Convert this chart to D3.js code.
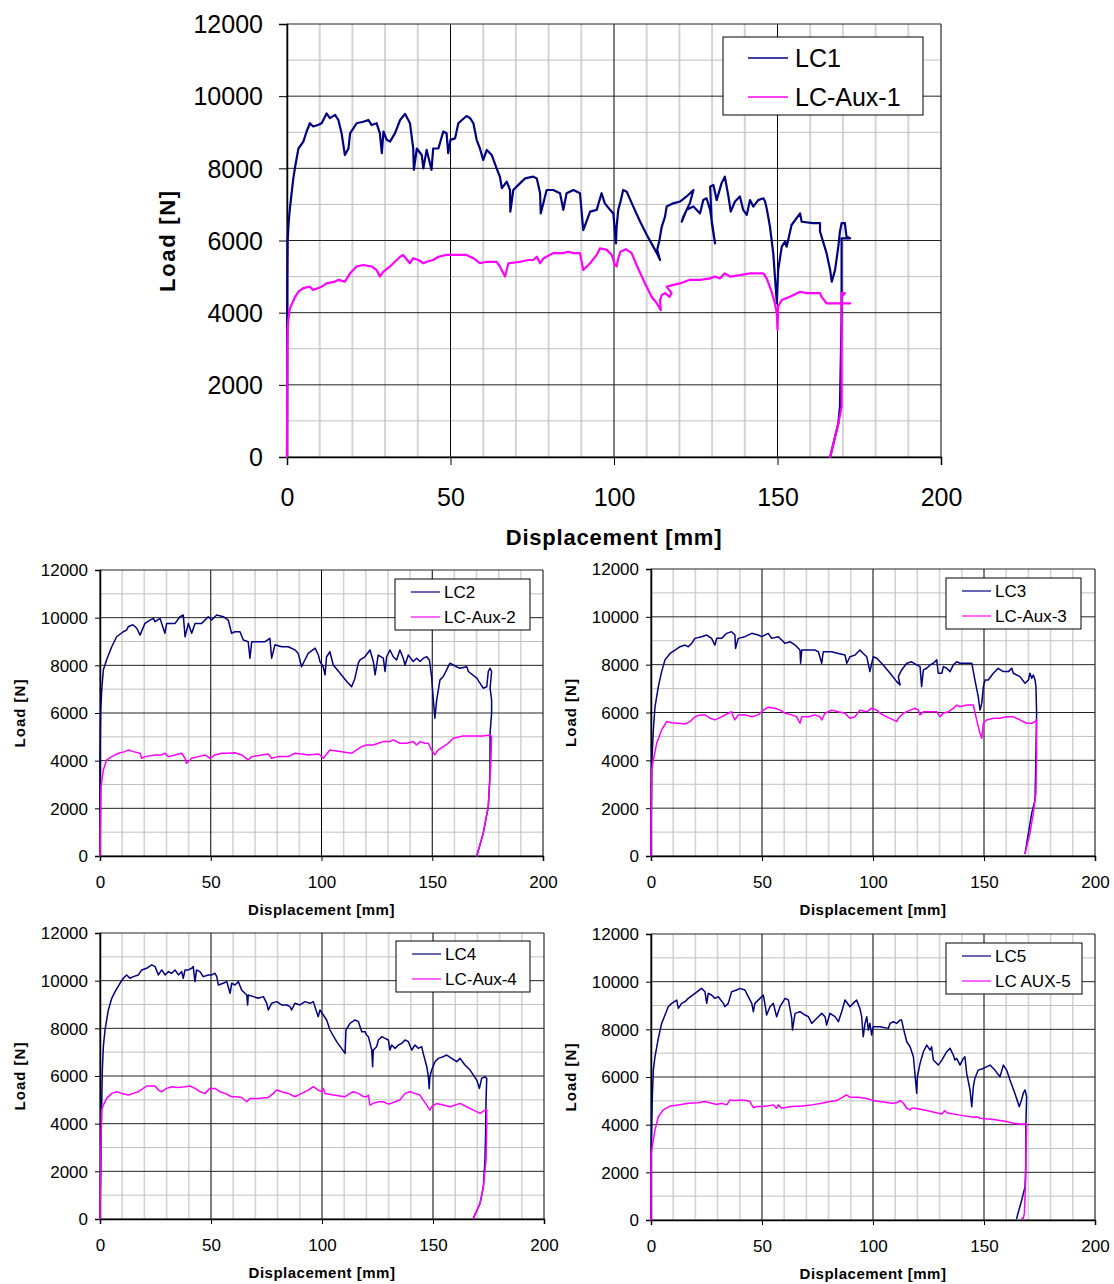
<!DOCTYPE html>
<html><head><meta charset="utf-8">
<script src="https://cdn.jsdelivr.net/npm/d3@7"></script>
<style>
html,body{margin:0;padding:0;background:#fff;}
svg{display:block;font-family:"Liberation Sans",Arial,sans-serif;}
</style></head>
<body>
<svg id="chart" width="1114" height="1284"></svg>
<script>
// ---------- DATA ----------
const xTicks = [0, 50, 100, 150, 200];
const yTicks = [0, 2000, 4000, 6000, 8000, 10000, 12000];
const xMinor = [10,20,30,40,60,70,80,90,110,120,130,140,160,170,180,190];
const yMinor = [1000,3000,5000,7000,9000,11000];
const xTitle = "Displacement [mm]";
const yTitle = "Load [N]";
const names1 = ["LC1", "LC-Aux-1"];
const names2 = ["LC2", "LC-Aux-2"];
const names3 = ["LC3", "LC-Aux-3"];
const names4 = ["LC4", "LC-Aux-4"];
const names5 = ["LC5", "LC AUX-5"];

const lc1 = [[0,0],[0.05,3000],[0.1,5000],[0.2,6000],[0.5,6500],[0.9,6900],[1.9,7700],[2.5,8050],[3.5,8550],[5,8740],[6,9020],[7,9250],[8,9160],[9.5,9200],[10.6,9250],[12.1,9520],[13.1,9390],[14.7,9480],[15.7,9340],[16.7,8970],[17.7,8370],[18.8,8550],[19.3,8970],[21.3,9250],[23.3,9290],[24.9,9340],[25.9,9200],[27.4,9250],[28.4,8970],[29.0,8420],[29.5,9020],[30.5,8790],[31.5,8740],[33.0,8970],[34.6,9340],[36.1,9510],[37.6,9250],[38.6,8550],[38.8,7960],[39.7,8550],[41.2,8370],[41.7,8000],[42.7,8510],[44.2,7960],[44.7,8550],[46.3,8550],[47.8,9020],[48.8,8970],[49.3,8420],[50.0,8790],[51.4,8830],[52.4,9250],[54.9,9450],[56.0,9390],[57.0,9250],[58.0,8790],[59.0,8550],[60.0,8230],[61.1,8510],[62.6,8370],[64.1,8000],[65.1,7770],[65.7,7450],[67.2,7630],[68.2,7400],[68.3,6800],[69.2,7400],[71.3,7590],[72.8,7720],[75.3,7770],[76.4,7720],[77.4,7310],[77.6,6750],[79.4,7400],[81.4,7400],[83.5,7310],[84.5,6850],[85.5,7310],[87.6,7400],[89.6,7310],[90.6,6290],[92.7,6800],[94.7,6850],[96.2,7310],[97.2,7030],[98.8,6850],[99.8,6750],[100.6,5920],[100.8,6380],[101.3,6850],[102.0,7080],[102.8,7400],[103.9,7350],[105.9,6940],[108.0,6520],[110.0,6160],[112.0,5830],[113.1,5650],[114.1,5460],[113.2,5740],[113.9,6010],[114.6,6380],[115.6,6660],[116.1,6940],[118.1,7030],[120.2,7080],[122.2,7220],[124.3,7400],[123.2,7030],[121.2,6660],[120.7,6520],[122.2,6850],[124.3,6940],[126.3,6750],[127.3,7120],[128.3,7170],[129.4,6850],[130.9,5920],[129.9,6480],[129.4,7490],[130.4,7540],[131.4,7120],[132.9,7590],[133.9,7770],[135.0,7220],[135.7,6800],[137.0,7080],[138.5,7220],[139.5,6850],[140.6,6710],[141.6,7120],[142.6,6940],[144.1,7120],[145.7,7170],[146.2,7080],[146.7,6890],[147.7,6380],[148.7,5650],[149.8,4260],[150.2,5180],[151.3,5830],[152.3,5970],[152.8,5830],[154.3,6430],[156.9,6750],[157.4,6520],[160.9,6480],[163.0,6480],[163.0,6250],[165.0,5650],[166.1,5180],[166.6,4860],[167.6,5180],[168.6,5830],[169.1,6250],[169.6,6480],[170.6,6480],[171.1,6110],[172.2,6060],[169.6,6060],[169.6,4500],[169.6,3900],[169.1,1390],[168.6,930],[166.1,0]];
const lcAux1 = [[0,0],[0.05,1500],[0.1,3000],[0.2,3600],[0.4,3800],[0.9,4120],[2.5,4440],[3.5,4580],[5,4680],[7,4720],[8,4630],[10.6,4720],[12.1,4810],[14.7,4860],[15.7,4910],[17.7,4860],[19.3,5090],[21.3,5280],[23.3,5320],[25.9,5280],[27.4,5180],[28.4,5000],[29.5,5140],[31.5,5280],[33.0,5410],[34.6,5550],[35.5,5600],[37.6,5370],[38.6,5510],[40.2,5460],[41.7,5370],[42.7,5410],[44.7,5460],[46.3,5550],[48.8,5600],[51.4,5600],[54.9,5600],[56.0,5550],[57.0,5510],[59.0,5370],[61.1,5410],[62.6,5410],[64.1,5410],[65.1,5280],[66.7,5000],[67.7,5370],[71.3,5410],[73.8,5460],[75.3,5460],[76.4,5550],[77.4,5370],[78.5,5510],[81.4,5650],[84.5,5650],[86.0,5690],[87.6,5650],[89.6,5650],[90.6,5180],[92.7,5370],[94.7,5600],[95.7,5780],[97.8,5740],[99.3,5600],[100.3,5320],[100.8,5280],[101.3,5510],[102.0,5690],[103.6,5760],[105.4,5650],[106.9,5320],[109.5,4810],[111.5,4440],[113.1,4260],[114.3,4070],[114.1,4350],[114.6,4490],[115.6,4540],[117.0,4440],[117.6,4540],[116.1,4720],[118.1,4770],[120.2,4810],[123.2,4910],[126.3,4910],[129.4,4950],[130.9,5000],[132.4,4950],[133.9,5090],[135.5,5000],[138.5,5040],[141.6,5090],[144.1,5090],[145.7,5090],[146.7,4950],[148.2,4580],[149.2,4260],[149.8,3980],[150.0,3520],[150.2,4170],[151.3,4350],[153.8,4440],[156.9,4580],[158.9,4540],[163.0,4540],[163.5,4440],[165.0,4260],[169.1,4260],[172.2,4260],[169.6,4260],[169.6,4540],[170.6,4540],[169.6,4440],[169.6,1390],[168.6,930],[166.1,0]];

const lc2 = [[0,0],[0,4000],[0.3,6100],[0.8,7000],[1.5,7800],[3.0,8230],[5.3,8780],[7.5,9200],[10.5,9410],[12.0,9480],[12.8,9620],[14.3,9690],[15.0,9690],[16.6,9555],[18.1,9270],[20.3,9760],[22.6,9900],[24.1,9970],[24.8,9830],[27.1,9970],[29.3,9345],[30.1,9760],[30.9,9760],[33.9,9760],[36.1,10040],[37.6,10110],[38.4,9200],[39.9,9760],[41.4,9345],[42.9,9760],[45.9,9760],[48.9,10040],[50.4,9900],[52.7,10110],[55.7,10040],[57.9,9900],[59.4,9345],[60.9,9410],[63.2,9410],[64.7,9060],[66.9,8990],[67.7,8300],[68.5,8990],[71.5,8990],[74.5,8990],[76.7,9130],[77.5,8300],[79.0,8860],[82.0,8780],[85.0,8780],[88.0,8650],[89.5,8500],[91.0,7940],[92.5,8225],[94.0,8500],[97.1,8720],[98.6,8435],[99.3,8160],[100.8,7940],[101.6,7600],[102.3,8360],[103.8,8570],[105.3,8015],[108.4,7670],[111.4,7320],[113.6,7100],[115.1,7460],[116.6,8090],[117.4,8225],[119.6,8360],[121.9,8645],[123.4,8160],[124.2,7600],[125.6,8430],[127.9,8300],[128.7,7740],[129.4,8360],[130.9,8645],[132.4,8360],[133.9,8225],[135.4,8645],[136.9,8300],[137.7,8015],[139.2,8430],[141.4,8160],[143.0,8300],[144.5,8160],[146.0,8300],[147.5,8360],[148.7,8225],[149.7,7530],[150.5,6550],[151.2,5780],[152.0,6550],[153.5,7390],[155.0,7530],[158.0,8090],[161.0,7940],[162.5,7875],[165.6,7940],[166.3,7740],[170.1,7460],[173.0,7040],[174.6,7100],[175.3,7740],[176.1,7880],[176.8,7740],[176.1,7040],[176.8,6550],[176.8,5990],[176.1,5150],[176.1,3470],[175.3,2070],[173.0,950],[170.1,0]];
const lcAux2 = [[0,0],[0.45,2900],[1.5,3610],[3.0,4030],[5.3,4170],[8.3,4310],[11.3,4380],[12.8,4450],[15.0,4380],[18.1,4310],[18.8,4100],[20.3,4170],[24.8,4240],[27.8,4240],[29.3,4310],[30.9,4170],[33.9,4240],[36.9,4310],[38.4,4100],[39.1,3890],[41.4,4100],[44.4,4170],[47.4,4240],[49.7,4100],[51.9,4240],[54.9,4310],[57.9,4310],[60.9,4335],[63.9,4240],[66.9,4030],[68.5,4170],[73.0,4240],[76.0,4280],[77.5,4100],[80.5,4170],[85.0,4170],[88.0,4310],[91.0,4280],[94.0,4240],[98.6,4280],[99.3,4240],[100.8,4100],[103.8,4450],[108.4,4380],[113.6,4310],[115.9,4450],[118.1,4590],[120.4,4660],[123.4,4660],[125.6,4730],[127.9,4800],[130.9,4800],[132.4,4870],[135.4,4730],[138.5,4730],[141.4,4800],[143.0,4660],[144.5,4800],[146.7,4730],[148.2,4730],[149.7,4450],[151.2,4240],[152.7,4450],[155.0,4590],[157.2,4730],[159.5,4940],[164.0,5040],[168.5,5040],[173.0,5040],[176.1,5080],[176.8,5010],[176.4,3750],[175.8,2910],[175.3,2070],[173.0,950],[170.1,0]];

const lc3 = [[0,0],[0.1,1500],[0.3,3730],[1.05,5270],[1.8,6240],[3.3,7080],[4.8,7710],[6.3,8200],[8.6,8470],[10.8,8610],[13.1,8750],[15.3,8820],[16.8,8750],[18.3,8890],[19.8,9100],[22.8,9170],[25.1,9240],[27.3,9100],[28.8,8820],[29.6,9100],[31.8,9100],[34.1,9310],[36.3,9380],[37.8,9240],[38.1,8680],[39.3,9100],[42.3,9170],[45.4,9310],[48.3,9240],[49.9,9170],[52.8,9310],[54.4,9100],[57.3,9170],[58.9,9030],[60.4,8890],[62.6,8960],[64.9,8820],[67.1,8610],[67.4,8060],[67.9,8610],[70.9,8610],[73.9,8610],[75.4,8540],[76.9,8060],[77.6,8540],[81.4,8540],[84.4,8470],[87.4,8400],[88.2,8060],[89.6,8330],[91.9,8400],[94.1,8610],[95.6,8470],[97.2,8330],[98.6,7710],[100.1,8330],[101.7,8270],[103.2,8120],[104.6,7990],[107.7,7640],[110.7,7290],[112.2,7150],[111.4,7500],[112.9,7780],[115.2,8060],[117.4,8120],[119.7,7990],[121.2,7920],[121.9,7080],[122.7,7780],[124.2,7850],[125.7,7990],[127.2,8060],[128.7,8200],[129.4,7640],[131.0,7640],[131.7,7920],[133.2,7850],[134.7,7710],[136.2,7990],[137.7,8120],[139.2,8060],[142.2,8060],[144.5,8060],[145.9,7360],[147.4,6660],[148.2,6100],[149.0,6380],[149.7,7080],[150.5,7360],[151.9,7360],[154.2,7640],[156.4,7850],[158.7,7710],[161.0,7710],[162.5,7850],[163.2,7640],[166.2,7500],[168.5,7220],[169.2,7290],[170.0,7360],[170.7,7640],[171.5,7430],[172.2,7570],[173.0,7360],[173.4,7080],[173.7,5970],[173.4,4290],[173.0,2340],[171.5,1790],[170.0,950],[168.5,110]];
const lcAux3 = [[0,0],[0.1,1300],[0.2,2500],[0.3,3600],[1.05,4010],[2.55,4710],[4.8,5270],[7.05,5620],[9.3,5570],[12.3,5550],[15.3,5520],[17.6,5620],[19.8,5820],[22.1,5900],[24.3,5900],[26.6,5760],[28.8,5690],[31.8,5820],[34.8,5970],[36.3,6030],[37.1,5820],[37.8,5690],[39.3,5900],[42.3,5900],[45.4,5820],[48.3,5900],[50.6,6100],[52.8,6220],[55.9,6180],[58.1,6100],[60.4,5970],[63.4,5900],[65.6,5820],[67.1,5550],[67.9,5820],[70.9,5820],[73.9,5900],[76.1,5820],[76.9,5690],[78.4,5970],[81.4,6100],[84.4,6030],[87.4,5970],[89.6,5760],[91.9,5820],[94.1,6100],[97.2,6030],[99.4,6180],[101.7,6100],[103.2,5970],[106.2,5820],[109.2,5690],[110.7,5620],[111.4,5760],[113.7,5970],[116.7,6100],[119.0,6180],[120.4,6100],[121.2,5900],[122.7,6030],[125.7,6030],[128.7,6030],[130.2,5820],[131.7,5970],[133.9,6030],[136.2,6180],[137.7,6310],[139.2,6240],[142.2,6310],[145.2,6310],[146.7,5690],[148.2,5130],[149.0,4920],[149.7,5550],[151.2,5690],[154.2,5760],[157.2,5760],[160.2,5820],[163.2,5820],[166.2,5690],[169.2,5550],[171.5,5550],[173.0,5620],[173.7,5690],[173.7,4290],[173.4,2620],[172.2,1790],[170.7,950],[168.5,110]];

const lc4 = [[0,0],[0.3,2000],[0.75,4710],[1.05,6250],[1.5,7230],[2.25,7930],[3.75,8770],[5.3,9260],[6.8,9540],[9.0,9890],[10.5,10100],[12.0,10240],[13.5,10100],[15.0,10170],[17.3,10240],[18.8,10450],[21.0,10520],[23.3,10660],[24.8,10590],[26.3,10240],[27.8,10450],[29.3,10240],[30.8,10380],[32.3,10310],[33.8,10450],[35.3,10240],[36.8,10380],[37.5,10100],[38.3,10450],[39.8,10450],[41.3,10520],[42.0,10590],[42.8,9960],[43.5,10450],[45.0,10380],[46.5,10170],[48.8,10240],[50.3,10240],[51.8,10310],[52.6,10170],[53.3,9820],[55.5,9890],[57.1,9960],[58.6,9470],[59.3,9890],[60.8,9820],[62.3,9960],[63.8,9610],[66.1,9400],[66.5,8980],[66.8,9400],[69.1,9330],[71.3,9260],[73.6,9330],[75.1,9050],[75.8,8770],[77.3,9050],[79.6,9120],[81.8,8980],[84.1,8980],[85.6,8910],[86.3,8770],[87.8,9050],[90.1,8980],[92.3,9120],[94.6,9050],[96.1,9120],[96.8,8910],[98.3,8490],[99.1,8770],[100.6,8560],[102.1,8350],[103.6,7930],[106.6,7440],[110.4,6950],[110.8,7930],[112.6,8210],[114.9,8350],[116.4,8280],[117.9,7860],[119.4,7860],[120.1,7720],[120.9,7650],[122.4,7090],[122.8,6390],[123.1,7090],[124.6,7230],[125.4,7510],[126.9,7650],[128.4,7580],[129.9,7510],[130.6,7090],[131.4,7300],[132.9,7160],[134.4,7300],[135.9,7370],[137.4,7510],[138.9,7440],[140.4,7090],[141.9,7300],[143.4,7160],[144.9,7230],[145.6,6950],[147.2,6390],[147.9,5970],[148.3,5480],[148.6,5970],[149.4,6250],[150.9,6600],[152.4,6740],[154.6,6810],[156.2,6880],[158.4,6740],[160.7,6600],[162.2,6740],[164.4,6460],[166.7,6250],[169.7,5830],[170.9,5480],[171.9,5900],[173.4,5970],[174.2,5900],[173.9,4990],[173.7,3600],[173.4,2480],[172.7,1360],[171.2,660],[168.2,30]];
const lcAux4 = [[0,0],[0.3,2500],[0.75,4570],[1.5,4780],[3.0,5060],[5.3,5270],[7.5,5340],[9.8,5270],[12.8,5200],[15.0,5270],[17.3,5340],[19.5,5480],[21.0,5580],[24.8,5580],[26.3,5410],[27.8,5340],[30.0,5480],[32.3,5550],[35.3,5520],[38.3,5550],[40.5,5580],[42.8,5480],[45.0,5340],[47.3,5270],[49.5,5480],[51.8,5480],[54.0,5340],[56.3,5270],[59.3,5130],[61.5,5130],[63.8,5100],[66.1,4920],[67.6,5060],[71.3,5060],[75.8,5100],[78.1,5270],[79.6,5410],[81.8,5340],[84.8,5270],[87.8,5130],[90.8,5270],[93.8,5410],[96.1,5550],[98.3,5410],[99.9,5340],[100.6,5480],[101.4,5270],[105.1,5200],[110.4,5130],[112.6,5270],[114.1,5340],[116.4,5270],[118.6,5130],[120.1,5130],[120.9,5200],[121.6,4780],[123.1,4850],[125.4,4920],[127.6,4920],[129.1,4850],[130.6,4830],[132.9,4920],[135.1,4990],[137.4,5270],[139.6,5340],[141.9,5270],[144.1,5200],[145.6,4990],[147.2,4780],[148.6,4570],[149.4,4710],[151.7,4850],[154.6,4780],[157.7,4710],[162.2,4850],[165.2,4710],[168.2,4570],[171.2,4430],[173.4,4570],[174.2,4600],[174.2,3870],[173.9,2480],[172.7,1360],[171.2,660],[168.2,30]];

const lc5 = [[0,0],[0.1,3000],[0.3,3920],[0.6,5170],[1.05,6290],[1.8,6850],[3.3,7620],[4.8,8250],[6.3,8600],[7.8,8950],[9.3,9090],[11.6,9230],[12.3,8880],[13.8,9090],[15.3,9160],[16.8,9300],[19.8,9510],[22.8,9720],[24.3,9580],[25.1,9090],[25.8,9510],[27.3,9440],[28.8,9300],[30.3,9370],[32.6,9090],[33.3,8950],[34.8,9090],[36.3,9580],[38.6,9650],[40.1,9720],[42.3,9650],[43.8,9370],[45.4,9090],[46.1,8740],[46.8,9090],[49.1,9300],[50.6,9440],[51.4,9020],[52.1,8600],[53.6,8950],[55.1,9090],[56.6,8530],[58.1,8950],[60.4,9300],[61.9,9230],[63.4,8460],[63.7,7970],[64.9,8670],[67.1,8740],[69.4,8600],[70.9,8530],[72.4,8250],[73.9,8390],[75.4,8530],[76.9,8670],[78.4,8530],[79.1,8180],[80.6,8670],[82.9,8530],[84.4,8320],[85.9,8740],[87.4,9230],[89.6,8950],[91.1,9090],[92.6,9230],[94.1,8880],[94.9,8530],[95.6,7690],[96.4,8250],[97.2,8530],[97.9,7970],[98.6,8250],[99.4,7760],[100.1,8110],[103.2,8110],[106.9,8040],[107.7,8250],[109.2,8320],[110.7,8250],[112.2,8390],[112.9,8390],[113.7,8040],[115.2,7480],[116.7,7270],[118.2,6850],[119.0,6010],[119.7,5320],[120.0,6010],[121.2,6570],[122.7,7060],[124.2,7340],[125.7,7130],[126.4,7270],[127.2,6710],[129.4,6500],[131.0,6710],[133.2,7060],[134.7,7200],[136.2,6920],[136.9,6710],[137.7,6780],[139.2,6500],[140.7,6780],[141.4,6850],[142.2,6150],[143.7,5460],[144.5,4750],[145.2,5590],[145.9,5950],[147.4,6290],[149.7,6360],[152.7,6500],[154.9,6290],[157.2,6010],[158.7,6500],[160.2,6290],[161.7,5870],[163.9,5320],[165.9,4750],[166.9,5040],[167.7,5320],[168.5,5460],[169.2,5170],[168.9,4060],[168.8,2240],[168.5,1400],[167.0,840],[164.7,70]];
const lcAux5 = [[0,0],[0.1,2800],[1.8,3780],[3.3,4330],[5.55,4620],[8.6,4780],[12.3,4830],[16.8,4900],[21.3,4920],[24.3,4970],[27.3,4900],[29.6,4850],[31.8,4900],[34.1,4830],[35.6,5040],[37.8,5010],[40.8,5040],[43.1,5010],[44.6,4970],[46.1,4710],[47.6,4760],[49.9,4760],[52.1,4780],[55.1,4830],[56.6,4690],[57.3,4830],[58.9,4690],[63.4,4760],[67.9,4780],[72.4,4830],[76.9,4900],[80.6,4970],[83.6,5010],[86.6,5170],[88.1,5250],[89.6,5150],[93.4,5150],[97.1,5100],[100.1,5010],[103.2,4970],[108.4,4900],[110.7,4920],[112.2,5010],[113.7,4900],[115.2,4690],[116.7,4620],[117.4,4690],[119.0,4690],[124.2,4590],[129.4,4480],[131.0,4450],[132.4,4590],[133.2,4500],[139.2,4400],[145.2,4310],[146.7,4330],[148.2,4270],[154.2,4220],[160.2,4130],[163.2,4060],[166.2,4030],[169.2,4030],[168.9,2800],[168.8,1680],[168.2,280],[167.7,70],[167.0,70]];

// ---------- LAYOUT ----------
const BIG = {tick:25, title:22, xTitLS:0.8, yTitLS:1.7, lw:2.2, tickLen:8, yLabGap:24, xLabDy:40, xTitDy:80, yTitDx:120,
  legFont:25, legRow1:21, legRow2:60, legL0:25, legL1:65, legTx:72, legLw:1.5};
const SMALL = {tick:17, title:15, xTitLS:0.5, yTitLS:1, lw:1.5, tickLen:5, yLabGap:12, xLabDy:26, xTitDy:54, yTitDx:80,
  legFont:17, legRow1:13, legRow2:38, legL0:16, legL1:45, legTx:49, legLw:1.2};

const panels = [
  {s:[lc1, lcAux1], n:names1, st:BIG,   l:287, r:941,  t:24,  b:457,  leg:[723,37,200,78]},
  {s:[lc2, lcAux2], n:names2, st:SMALL, l:100, r:543,  t:570, b:856,  leg:[395,579,135,51]},
  {s:[lc3, lcAux3], n:names3, st:SMALL, l:651, r:1095, t:569, b:856,  leg:[946,578,135,51]},
  {s:[lc4, lcAux4], n:names4, st:SMALL, l:100, r:544,  t:933, b:1219, leg:[396,941,134,51]},
  {s:[lc5, lcAux5], n:names5, st:SMALL, l:651, r:1095, t:934, b:1220, leg:[946,943,136,51]}
];
const colors = ["#000080", "#FF00FF"];

const svg = d3.select("#chart");

panels.forEach(p => {
  const st = p.st;
  const x = d3.scaleLinear().domain([0, 200]).range([p.l, p.r]);
  const y = d3.scaleLinear().domain([0, 12000]).range([p.b, p.t]);
  const g = svg.append("g");

  // minor grid
  g.selectAll(".vx").data(xMinor).join("line")
    .attr("x1", d => x(d)).attr("x2", d => x(d)).attr("y1", p.t).attr("y2", p.b)
    .attr("stroke", "#d4d4d4").attr("stroke-width", st === BIG ? 2 : 1.6);
  g.selectAll(".hy").data(yMinor).join("line")
    .attr("x1", p.l).attr("x2", p.r).attr("y1", d => y(d)).attr("y2", d => y(d))
    .attr("stroke", "#c0c0c0").attr("stroke-width", 1);
  // major grid
  g.selectAll(".vX").data(xTicks).join("line")
    .attr("x1", d => x(d)).attr("x2", d => x(d)).attr("y1", p.t).attr("y2", p.b)
    .attr("stroke", "#000").attr("stroke-width", 1);
  g.selectAll(".hY").data(yTicks).join("line")
    .attr("x1", p.l).attr("x2", p.r).attr("y1", d => y(d)).attr("y2", d => y(d))
    .attr("stroke", "#222").attr("stroke-width", 1);

  // axes
  const ax = d3.axisBottom(x).tickValues(xTicks).tickSize(st.tickLen).tickFormat(d3.format("d"));
  const axG = g.append("g").attr("transform", `translate(0,${p.b})`).call(ax);
  const ay = d3.axisLeft(y).tickValues(yTicks).tickSize(st.tickLen).tickFormat(d3.format("d"));
  const ayG = g.append("g").attr("transform", `translate(${p.l},0)`).call(ay);
  [axG, ayG].forEach(a => {
    a.select(".domain").attr("stroke", "#000").attr("stroke-width", 1.5);
    a.selectAll(".tick line").attr("stroke", "#000");
    a.selectAll("text").attr("font-family", '"Liberation Sans", Arial, sans-serif')
      .attr("font-size", st.tick).attr("fill", "#000");
  });
  axG.selectAll("text").attr("y", st.xLabDy).attr("dy", "0.35em");
  ayG.selectAll("text").attr("x", -st.yLabGap).attr("dy", "0.35em");

  // titles
  g.append("text").attr("x", (p.l + p.r) / 2).attr("y", p.b + st.xTitDy).attr("dy", "0.35em")
    .attr("text-anchor", "middle").attr("font-weight", "bold").attr("font-size", st.title)
    .attr("letter-spacing", st.xTitLS).text(xTitle);
  g.append("text").attr("transform", `translate(${p.l - st.yTitDx},${(p.t + p.b) / 2}) rotate(-90)`)
    .attr("dy", "0.35em").attr("text-anchor", "middle").attr("font-weight", "bold")
    .attr("font-size", st.title).attr("letter-spacing", st.yTitLS).text(yTitle);

  // series
  const line = d3.line().x(d => x(d[0])).y(d => y(d[1]));
  p.s.forEach((ser, i) => {
    g.append("path").datum(ser).attr("d", line).attr("fill", "none")
      .attr("stroke", colors[i]).attr("stroke-width", st.lw)
      .attr("stroke-linejoin", "round").attr("stroke-linecap", "round");
  });

  // legend
  const [lx, ly, lw, lh] = p.leg;
  g.append("rect").attr("x", lx).attr("y", ly).attr("width", lw).attr("height", lh)
    .attr("fill", "#fff").attr("stroke", "#000").attr("stroke-width", 1);
  [st.legRow1, st.legRow2].forEach((dy, i) => {
    g.append("line").attr("x1", lx + st.legL0).attr("x2", lx + st.legL1)
      .attr("y1", ly + dy).attr("y2", ly + dy).attr("stroke", colors[i]).attr("stroke-width", st.legLw);
    g.append("text").attr("x", lx + st.legTx).attr("y", ly + dy).attr("dy", "0.35em")
      .attr("font-size", st.legFont).text(p.n[i]);
  });
});
</script>
</body></html>
